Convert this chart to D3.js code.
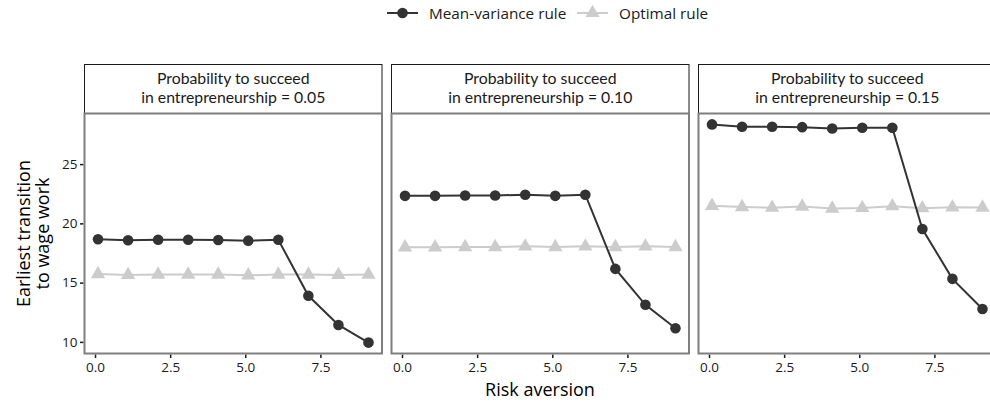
<!DOCTYPE html>
<html>
<head>
<meta charset="utf-8">
<script src="https://cdn.jsdelivr.net/npm/d3@7/dist/d3.min.js"></script>
<style>
  html, body { margin: 0; padding: 0; background: #fff; }
  svg { display: block; font-family: "Open Sans", sans-serif; }
</style>
</head>
<body>
<svg id="chart" width="990" height="402"></svg>
<script>
// Risk aversion levels (x)
const riskAversion = [0.1, 1.1, 2.1, 3.1, 4.1, 5.1, 6.1, 7.1, 8.1, 9.1];

// Facets: probability to succeed in entrepreneurship
const facetLabels = ["0.05", "0.10", "0.15"];

// Earliest transition to wage work, mean-variance rule
const meanVariance = [
  [18.66, 18.57, 18.62, 18.62, 18.60, 18.54, 18.62, 13.89, 11.43, 9.94],
  [22.32, 22.32, 22.35, 22.35, 22.42, 22.32, 22.42, 16.16, 13.13, 11.15],
  [28.35, 28.15, 28.15, 28.12, 28.00, 28.07, 28.07, 19.52, 15.32, 12.77]
];

// Earliest transition to wage work, optimal rule
const optimal = [
  [15.72, 15.65, 15.68, 15.68, 15.68, 15.62, 15.68, 15.68, 15.65, 15.68],
  [17.98, 17.98, 18.00, 18.00, 18.06, 18.00, 18.06, 18.00, 18.06, 18.00],
  [21.48, 21.38, 21.32, 21.42, 21.25, 21.30, 21.45, 21.28, 21.35, 21.33]
];

const xTicks = [0, 2.5, 5, 7.5];
const yTicks = [10, 15, 20, 25];

const seriesNames = ["Mean-variance rule", "Optimal rule"];
const dark = "#333333";
const light = "#cccccc";
const font = "'Open Sans', sans-serif";

const svg = d3.select("#chart");

const panelLeft = 84.5, panelStride = 307, panelW = 297.5;
const stripTop = 64.5, stripBottom = 113.5, panelBottom = 353.5;

// shared scales (free of facet offset)
const xPad = (d3.max(riskAversion) - d3.min(riskAversion)) * 0.05;
const x = d3.scaleLinear()
  .domain([d3.min(riskAversion) - xPad, d3.max(riskAversion) + xPad])
  .range([0, panelW]);

const allY = meanVariance.flat().concat(optimal.flat());
const yPad = (d3.max(allY) - d3.min(allY)) * 0.05;
const y = d3.scaleLinear()
  .domain([d3.min(allY) - yPad, d3.max(allY) + yPad])
  .range([panelBottom, stripBottom]);

const line = d3.line().x((d, i) => x(riskAversion[i])).y(d => y(d));
const tri = d3.symbol().type(d3.symbolTriangle).size(88);

facetLabels.forEach((lab, f) => {
  const g = svg.append("g").attr("transform", `translate(${panelLeft + f * panelStride},0)`);

  // strip
  g.append("rect")
    .attr("x", 0).attr("y", stripTop)
    .attr("width", panelW).attr("height", stripBottom - stripTop)
    .attr("fill", "#fff").attr("stroke", "#1a1a1a").attr("stroke-width", 1);
  const st = g.append("text")
    .attr("text-anchor", "middle")
    .attr("font-family", "Lato, sans-serif")
    .attr("font-size", 15.8).attr("fill", "#1a1a1a");
  st.append("tspan").attr("x", panelW / 2).attr("y", 83.5).text("Probability to succeed");
  st.append("tspan").attr("x", panelW / 2).attr("y", 102.5).text(`in entrepreneurship = ${lab}`);

  // x axis
  const xa = g.append("g").attr("transform", `translate(0,${panelBottom + 1})`)
    .call(d3.axisBottom(x).tickValues(xTicks).tickFormat(d3.format(".1f")).tickSize(3.5).tickPadding(4.5));
  xa.select(".domain").remove();
  xa.selectAll("line").attr("stroke", "#1a1a1a").attr("stroke-width", 1.5);
  xa.selectAll("text").attr("font-size", 13.5).attr("fill", "#1a1a1a").attr("font-family", font);

  if (f === 0) {
    const ya = g.append("g").attr("transform", "translate(-1,0)")
      .call(d3.axisLeft(y).tickValues(yTicks).tickSize(3.5).tickPadding(2.5));
    ya.select(".domain").remove();
    ya.selectAll("line").attr("stroke", "#1a1a1a").attr("stroke-width", 1.5);
    ya.selectAll("text").attr("font-size", 13.5).attr("fill", "#1a1a1a").attr("font-family", font);
  }

  // optimal rule
  g.append("path").datum(optimal[f])
    .attr("d", line).attr("fill", "none").attr("stroke", light).attr("stroke-width", 2);
  g.selectAll(".tri").data(optimal[f]).join("path")
    .attr("transform", (d, i) => `translate(${x(riskAversion[i])},${y(d)})`)
    .attr("d", tri).attr("fill", light);

  // mean-variance rule
  g.append("path").datum(meanVariance[f])
    .attr("d", line).attr("fill", "none").attr("stroke", dark).attr("stroke-width", 2);
  g.selectAll(".dot").data(meanVariance[f]).join("circle")
    .attr("cx", (d, i) => x(riskAversion[i])).attr("cy", d => y(d))
    .attr("r", 5.3).attr("fill", dark);

  // panel border
  g.append("rect")
    .attr("x", 0).attr("y", stripBottom)
    .attr("width", panelW).attr("height", panelBottom - stripBottom)
    .attr("fill", "none").attr("stroke", "#7f7f7f").attr("stroke-width", 2);
});

// axis titles
svg.append("text")
  .attr("x", 540).attr("y", 396)
  .attr("text-anchor", "middle").attr("font-size", 18).attr("fill", "#000")
  .text("Risk aversion");

const yt = svg.append("text")
  .attr("transform", `translate(0,${(stripBottom + panelBottom) / 2}) rotate(-90)`)
  .attr("text-anchor", "middle").attr("font-size", 18).attr("fill", "#000");
yt.append("tspan").attr("x", 0).attr("y", 30).text("Earliest transition");
yt.append("tspan").attr("x", 0).attr("y", 48.5).text("to wage work");

// legend
const lg = svg.append("g");
const legendItems = [
  { name: seriesNames[0], x0: 387, tx: 429, color: dark, shape: "circle" },
  { name: seriesNames[1], x0: 577, tx: 619, color: light, shape: "triangle" }
];
legendItems.forEach(it => {
  lg.append("line").attr("x1", it.x0).attr("x2", it.x0 + 31)
    .attr("y1", 13).attr("y2", 13).attr("stroke", it.color).attr("stroke-width", 2);
  if (it.shape === "circle") {
    lg.append("circle").attr("cx", it.x0 + 15.5).attr("cy", 13).attr("r", 5.3).attr("fill", it.color);
  } else {
    lg.append("path").attr("transform", `translate(${it.x0 + 15.5},13)`).attr("d", tri).attr("fill", it.color);
  }
  lg.append("text").attr("x", it.tx).attr("y", 18.5).attr("font-size", 15.3).attr("fill", "#1a1a1a").text(it.name);
});
</script>
</body>
</html>
